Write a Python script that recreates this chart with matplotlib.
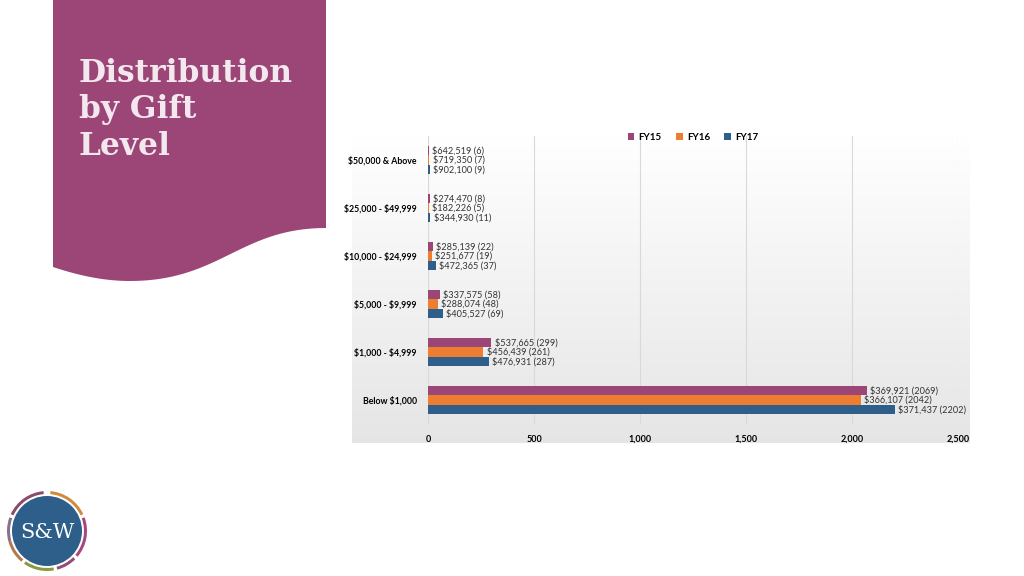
import numpy as np
import matplotlib
matplotlib.use('Agg')
import matplotlib.pyplot as plt
from matplotlib.patches import Polygon, Circle, Wedge

plt.rcParams['font.family'] = ['Lato', 'DejaVu Sans']
plt.rcParams['text.parse_math'] = False  # знак $ без mathtext

# данные
categories = ["$50,000 & Above", "$25,000 - $49,999", "$10,000 - $24,999",
              "$5,000 - $9,999", "$1,000 - $4,999", "Below $1,000"]
series = ["FY15", "FY16", "FY17"]
fy15_counts = [6, 8, 22, 58, 299, 2069]
fy16_counts = [7, 5, 19, 48, 261, 2042]
fy17_counts = [9, 11, 37, 69, 287, 2202]
fy15_amounts = [642519, 274470, 285139, 337575, 537665, 369921]
fy16_amounts = [719350, 182226, 251677, 288074, 456439, 366107]
fy17_amounts = [902100, 344930, 472365, 405527, 476931, 371437]
x_ticks = [0, 500, 1000, 1500, 2000, 2500]

colors = ['#9B4677', '#ED7D31', '#2E5F8A']
W, H = 1024, 576

fig = plt.figure(figsize=(W / 100, H / 100), dpi=100)

# фон слайда и фиолетовая панель
bg = fig.add_axes([0, 0, 1, 1])
bg.set_xlim(0, W)
bg.set_ylim(H, 0)
bg.axis('off')


def bezier(p0, p1, p2, p3, n=40):
    t = np.linspace(0, 1, n)[:, None]
    return ((1 - t) ** 3 * np.array(p0) + 3 * (1 - t) ** 2 * t * np.array(p1)
            + 3 * (1 - t) * t ** 2 * np.array(p2) + t ** 3 * np.array(p3))


# волнистый низ панели
wave = np.vstack([bezier((53, 267), (80, 276), (105, 281), (130, 281)),
                  bezier((130, 281), (220, 281), (240, 228), (326, 228))])
pts = [(53, 0), (326, 0)] + [tuple(p) for p in wave[::-1]]
bg.add_patch(Polygon(pts, closed=True, color='#9B4677', lw=0))
bg.text(79, 58, "Distribution\nby Gift\nLevel", color='#F4E8EF', fontsize=22.5,
        fontweight='bold', family=['DejaVu Serif'], va='top', ha='left',
        linespacing=1.22)

# логотип (ось y перевернута, поэтому углы с минусом)
cx, cy = 47, 531
segs = [(25, 85, '#D08A3A'), (-40, 20, '#A8467E'), (-75, -45, '#9A4A78'),
        (-125, -80, '#8B9A3E'), (-165, -130, '#B07A4E'), (160, 195, '#8A7090'),
        (95, 155, '#8E4A6A')]
for a0, a1, c in segs:
    bg.add_patch(Wedge((cx, cy), 40, -a1, -a0, width=3, color=c, lw=0))
bg.add_patch(Circle((cx, cy), 35, color='#2E5F8A', lw=0))
bg.text(cx, cy + 1, "S&W", color='white', fontsize=15, ha='center', va='center',
        family=['DejaVu Serif'])

# фон области диаграммы с градиентом
grad = np.linspace(1.0, 0.9, 100).reshape(-1, 1)
bg.imshow(np.dstack([grad, grad, grad]), extent=[352, 970, 443, 135],
          aspect='auto', zorder=0.5)

# диаграмма
ax = fig.add_axes([428 / W, 1 - 424 / H, 530 / W, 288 / H])
ax.patch.set_alpha(0)
y = np.arange(len(categories))
h = 0.2
all_counts = [fy15_counts, fy16_counts, fy17_counts]
all_amounts = [fy15_amounts, fy16_amounts, fy17_amounts]
for k in range(3):
    yy = y + (k - 1) * h
    ax.barh(yy, all_counts[k], height=h, color=colors[k], label=series[k], zorder=3)
    for yi, cnt, amt in zip(yy, all_counts[k], all_amounts[k]):
        ax.text(cnt + 15, yi, f"${amt:,} ({cnt})", fontsize=6.6, color='#333333',
                va='center', ha='left', zorder=4)

ax.set_xlim(0, 2500)
ax.set_ylim(len(categories) - 0.5, -0.5)
ax.set_xticks(x_ticks)
ax.set_xticklabels([f"{v:,}" for v in x_ticks], fontsize=6.5, fontweight='bold')
ax.set_yticks(y)
ax.set_yticklabels(categories, fontsize=6.3, fontweight='bold')
ax.tick_params(length=0, pad=8)
ax.xaxis.grid(True, color='#D9D9D9', lw=0.8, zorder=0)
for s in ax.spines.values():
    s.set_visible(False)
ax.axvline(0, color='#D9D9D9', lw=0.8, zorder=1)

ax.legend(loc='center', bbox_to_anchor=(0.5, 0.995), ncol=3, frameon=False,
          handlelength=0.7, handleheight=0.7, columnspacing=1.5,
          handletextpad=0.4, prop={'weight': 'bold', 'size': 7})

fig.savefig('out.png', dpi=100)
